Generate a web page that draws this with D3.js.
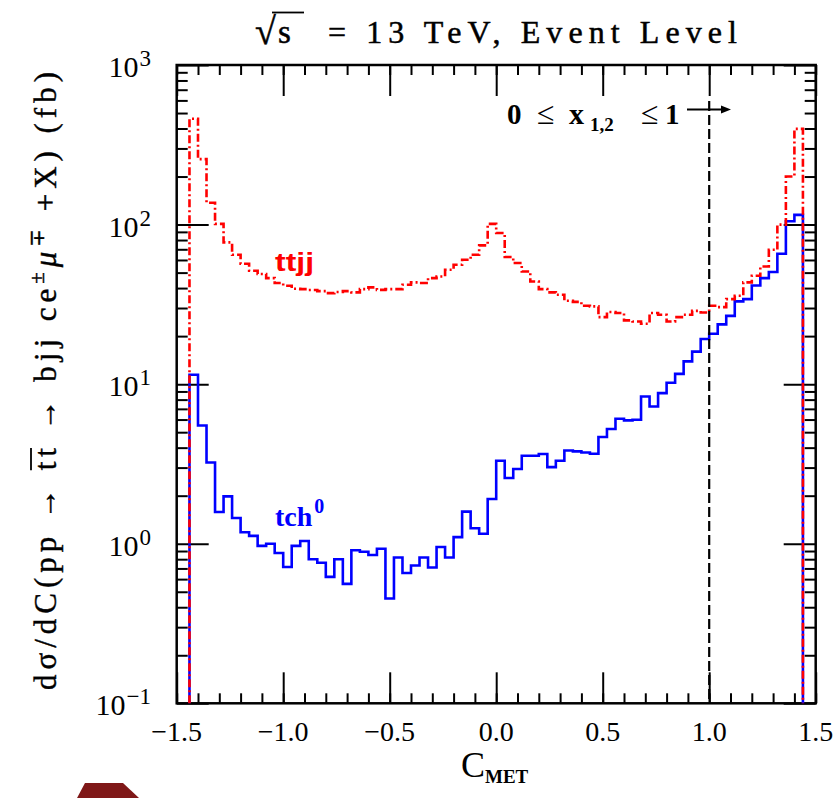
<!DOCTYPE html>
<html><head><meta charset="utf-8">
<script src="https://cdn.jsdelivr.net/npm/d3@7"></script>
<style>
html,body{margin:0;padding:0;background:#fff;}
svg{display:block;}
</style></head>
<body>
<svg id="chart" width="840" height="798"></svg>
<script>
// ---------------- data ----------------
const binWidth = 0.04;
const binLow = d3.range(72).map(i => +(-1.44 + binWidth * i).toFixed(2));
const tch0 = [11.45,5.51,3.23,1.58,1.98,1.45,1.18,1.12,0.97,1.0,0.875,0.715,0.97,1.04,0.80,0.76,0.62,0.80,0.56,0.91,0.89,0.85,0.93,0.454,0.82,0.655,0.73,0.82,0.71,0.953,0.82,1.10,1.59,1.25,1.155,1.905,3.31,2.58,2.94,3.56,3.56,3.65,3.02,3.31,3.84,3.79,3.73,3.66,4.66,5.23,6.07,5.93,5.98,8.37,7.25,8.79,10.2,11.6,13.9,16.0,19.2,20.7,23.7,26.8,33.0,34.1,41.5,46.2,50.4,65.6,105,115];
const ttjj = [460,257,137,101,77.3,64.7,56.8,51.4,49.0,46.2,43.0,41.4,39.6,39.4,38.9,38.3,37.2,37.8,38.3,37.6,39.4,40.4,39.0,39.4,39.4,42.0,43.4,43.0,46.2,47.3,52.1,56.0,60.2,64.7,74.1,101,88.5,62.6,57.4,50.8,44.0,39.4,37.6,36.3,33.3,32.8,31.0,30.7,26.3,28.3,27.9,25.1,24.7,23.9,27.9,27.2,24.7,26.3,27.2,28.8,28.1,31.0,30.4,34.1,35.8,43.4,47.8,54.6,69.5,100,200,398];
const xMajor = [-1.5,-1.0,-0.5,0.0,0.5,1.0,1.5];
const xTickLabels = ["\u22121.5","\u22121.0","\u22120.5","0.0","0.5","1.0","1.5"];
const xMinor = d3.range(-15, 16).map(i => i / 10);
const yMajor = [0.1, 1, 10, 100, 1000];
const yExpLabels = ["\u22121","0","1","2","3"];
const yMinor = [0.1,1,10,100].flatMap(d => [2,3,4,5,6,7,8,9].map(k => +(d * k).toPrecision(3)));
const cutX = 1.0;

// ---------------- layout ----------------
const L = 176.7, R = 815.7, T = 65, B = 703.3;
const svg = d3.select("#chart");
const x = d3.scaleLinear().domain([-1.5, 1.5]).range([L, R]);
const y = d3.scaleLog().domain([0.1, 1000]).range([B, T]);
const serif = "'Liberation Serif','DejaVu Serif',serif";

// ticks via d3 axes
function styleAxis(g){ g.select(".domain").remove(); g.selectAll("line").attr("stroke","#000").attr("stroke-width",2); g.selectAll("text").remove(); }
svg.append("g").attr("transform",`translate(0,${B})`).call(d3.axisBottom(x).tickValues(xMinor).tickSize(-10)).call(styleAxis);
svg.append("g").attr("transform",`translate(0,${B})`).call(d3.axisBottom(x).tickValues(xMajor).tickSize(-31)).call(styleAxis);
svg.append("g").attr("transform",`translate(0,${T})`).call(d3.axisTop(x).tickValues(xMinor).tickSize(-10)).call(styleAxis);
svg.append("g").attr("transform",`translate(0,${T})`).call(d3.axisTop(x).tickValues(xMajor).tickSize(-31)).call(styleAxis);
svg.append("g").attr("transform",`translate(${L},0)`).call(d3.axisLeft(y).tickValues(yMinor).tickSize(-11)).call(styleAxis);
svg.append("g").attr("transform",`translate(${L},0)`).call(d3.axisLeft(y).tickValues(yMajor).tickSize(-32)).call(styleAxis);
svg.append("g").attr("transform",`translate(${R},0)`).call(d3.axisRight(y).tickValues(yMinor).tickSize(-11)).call(styleAxis);
svg.append("g").attr("transform",`translate(${R},0)`).call(d3.axisRight(y).tickValues(yMajor).tickSize(-32)).call(styleAxis);

// frame
svg.append("rect").attr("x",L).attr("y",T).attr("width",R-L).attr("height",B-T)
  .attr("fill","none").attr("stroke","#000").attr("stroke-width",2.5);

// x tick labels
svg.append("g").selectAll("text").data(xMajor).join("text")
  .attr("x", d => x(d)).attr("y", 741).attr("text-anchor","middle")
  .attr("font-family", serif).attr("font-size", 28).attr("fill","#000")
  .text((d,i) => xTickLabels[i]);

// y tick labels
const yl = svg.append("g").selectAll("text").data(yMajor).join("text")
  .attr("x", 151).attr("y", d => y(d) + 12).attr("text-anchor","end")
  .attr("font-family", serif).attr("font-size", 30).attr("fill","#000");
yl.append("tspan").text("10");
yl.append("tspan").attr("font-size", 23).attr("dy", -11).attr("dx", 1).text((d,i) => yExpLabels[i]);

// histograms
function stepPoints(vals){
  const pts = [[binLow[0], 0.1]];
  vals.forEach((v,i) => { pts.push([binLow[i], v]); pts.push([binLow[i] + binWidth, v]); });
  pts.push([binLow[vals.length-1] + binWidth, 0.1]);
  return pts;
}
const line = d3.line().x(d => x(d[0])).y(d => y(d[1]));
svg.append("path").datum(stepPoints(tch0)).attr("d", line)
  .attr("fill","none").attr("stroke","#0000ff").attr("stroke-width",2.6).attr("stroke-linejoin","miter");
svg.append("path").datum(stepPoints(ttjj)).attr("d", line)
  .attr("fill","none").attr("stroke","#ff0000").attr("stroke-width",2.6)
  .attr("stroke-dasharray","8,3,2,3");

// cut line and arrow
svg.append("line").attr("x1",x(cutX)).attr("x2",x(cutX)).attr("y1",101).attr("y2",B)
  .attr("stroke","#000").attr("stroke-width",2.2).attr("stroke-dasharray","10,4");
svg.append("line").attr("x1",687).attr("x2",724).attr("y1",109.5).attr("y2",109.5)
  .attr("stroke","#000").attr("stroke-width",2);
svg.append("path").attr("d","M721,105.5 L731,109.5 L721,113.5 Z").attr("fill","#000");

// annotation 0 <= x_{1,2} <= 1
const ann = svg.append("g").attr("font-family", serif).attr("font-weight","bold").attr("fill","#000");
ann.append("text").attr("x",507).attr("y",124).attr("font-size",29).text("0");
ann.append("text").attr("x",537).attr("y",124).attr("font-size",32).attr("font-weight","normal").text("\u2264");
ann.append("text").attr("x",569).attr("y",124).attr("font-size",30).text("x");
ann.append("text").attr("x",590).attr("y",131).attr("font-size",19).text("1,2");
ann.append("text").attr("x",641).attr("y",124).attr("font-size",32).attr("font-weight","normal").text("\u2264");
ann.append("text").attr("x",665).attr("y",124).attr("font-size",29).text("1");

// series labels
svg.append("text").attr("x",275).attr("y",271).attr("font-family","'Liberation Sans',sans-serif")
  .attr("font-weight","bold").attr("font-size",26).attr("fill","#ff0000")
  .attr("textLength",39).attr("lengthAdjust","spacingAndGlyphs").text("ttjj");
const tl = svg.append("text").attr("x",275).attr("y",526).attr("font-family",serif)
  .attr("font-weight","bold").attr("font-size",28).attr("fill","#0000ff");
tl.append("tspan").text("tch");
tl.append("tspan").attr("font-size",20).attr("dy",-13).attr("dx",2).text("0");

// title
const tg = svg.append("g").attr("font-family", serif).attr("fill","#000").attr("stroke","#000").attr("stroke-width",0.5);
tg.append("text").attr("x",255).attr("y",44).attr("font-size",38).text("\u221A");
tg.append("text").attr("x",278).attr("y",43).attr("font-size",33).text("s");
tg.append("line").attr("x1",272).attr("x2",304).attr("y1",12.5).attr("y2",12.5).attr("stroke","#000").attr("stroke-width",1.8);
tg.append("text").attr("x",328).attr("y",43).attr("font-size",32)
  .attr("textLength",409).attr("lengthAdjust","spacing").text("= 13 TeV, Event Level");

// x label
const xl = svg.append("text").attr("x",461).attr("y",777).attr("font-family",serif).attr("fill","#000");
xl.append("tspan").attr("font-size",36).text("C");
xl.append("tspan").attr("font-size",19).attr("font-weight","bold").attr("dy",6).text("MET");

// y label
const ylab = svg.append("g").attr("transform","translate(56,381) rotate(-90)");
const yt = ylab.append("text").attr("x",0).attr("y",0).attr("text-anchor","middle")
  .attr("font-family",serif).attr("font-size",31).attr("fill","#000")
  .attr("stroke","#000").attr("stroke-width",0.4)
  .attr("textLength",618).attr("lengthAdjust","spacing");
yt.append("tspan").text("d\u03C3/dC(pp \u2192 tt \u2192 bjj ce");
yt.append("tspan").attr("font-size",21).attr("dy",-12).text("\u00B1");
yt.append("tspan").attr("font-size",31).attr("dy",12).attr("font-style","italic").text("\u03BC");
yt.append("tspan").attr("font-size",21).attr("dy",-12).text("\u2213");
yt.append("tspan").attr("font-size",31).attr("dy",12).text(" +X) (fb)");
// overline over "tt"
try {
  const node = yt.node();
  const full = "d\u03C3/dC(pp \u2192 ";
  const i0 = full.length;
  const s = node.getStartPositionOfChar(i0), e = node.getEndPositionOfChar(i0 + 1);
  ylab.append("line").attr("x1", s.x).attr("x2", e.x).attr("y1", -25).attr("y2", -25)
    .attr("stroke","#000").attr("stroke-width",1.8);
} catch(err) {}

// decorative mark bottom-left
svg.append("path").attr("d","M85,783 L123,783 L139,798 L77,798 Z").attr("fill","#7f1818");
</script>
</body></html>
